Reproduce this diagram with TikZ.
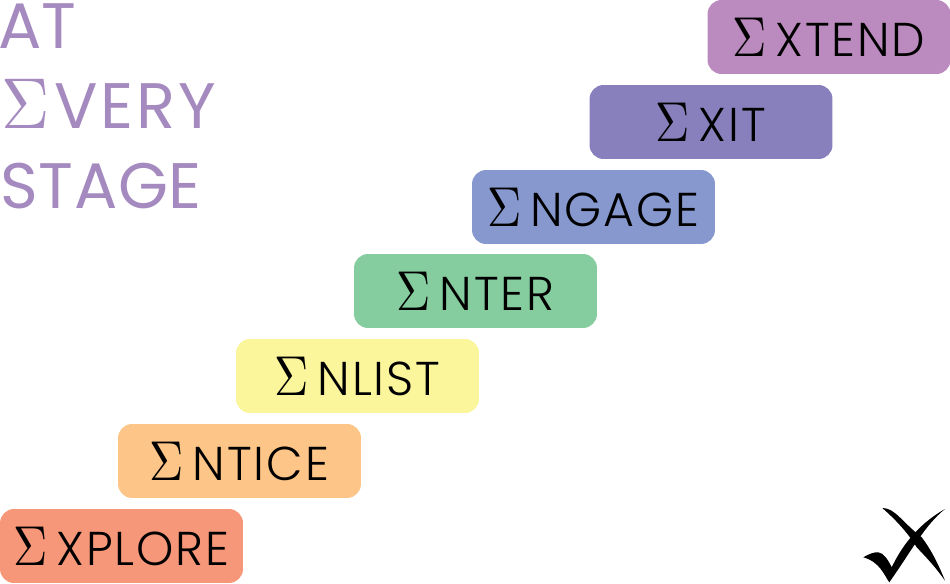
\documentclass[tikz,border=0pt]{standalone}
\usepackage{fontspec}
\setmainfont{Poppins Light}
\newfontfamily\headfont{Poppins}
\definecolor{explorecol}{HTML}{F79779}
\definecolor{enticecol}{HTML}{FDC587}
\definecolor{enlistcol}{HTML}{FBF59B}
\definecolor{entercol}{HTML}{85CC9F}
\definecolor{engagecol}{HTML}{8698CE}
\definecolor{exitcol}{HTML}{8880BC}
\definecolor{extendcol}{HTML}{BB8ABE}
\definecolor{headcol}{HTML}{A58ABF}
\newcommand{\sigmabase}{\fontsize{10}{10}\selectfont$\Sigma$}
\newcommand{\sig}{\scalebox{2.7}[3.2]{\sigmabase}\hspace{5pt}}
\newcommand{\bigsig}{\scalebox{3.8}[4.1]{\sigmabase}\hspace{3pt}}
\tikzset{
  stepbox/.style={rounded corners=0.28cm,minimum width=4.86cm,minimum height=1.48cm,
    inner sep=0pt,text=black,font=\fontsize{27}{27}\selectfont\addfontfeature{LetterSpace=4}},
  headline/.style={anchor=base west,inner sep=0pt,text=headcol,font=\headfont\fontsize{36.6}{36.6}\selectfont}
}
\begin{document}
\begin{tikzpicture}[x=0.02cm,y=-0.02cm]
  \useasboundingbox (0,0) rectangle (950,584);
  \node (at) [headline] at (-2,49) {AT};
  \node (every) [headline] at (1,129) {\bigsig\addfontfeature{LetterSpace=4}VERY};
  \node (stage) [headline] at (0,209) {\addfontfeature{LetterSpace=1}STAGE};
  \node (explore) [stepbox,fill=explorecol] at (121.5,546) {\sig XPLORE};
  \node (entice) [stepbox,fill=enticecol] at (239.5,461) {\sig NTICE};
  \node (enlist) [stepbox,fill=enlistcol] at (357.5,376) {\sig NLIST};
  \node (enter) [stepbox,fill=entercol] at (475.5,291) {\sig NTER};
  \node (engage) [stepbox,fill=engagecol] at (593.5,207) {\sig NGAGE};
  \node (exit) [stepbox,fill=exitcol] at (711,122) {\sig XIT};
  \node (extend) [stepbox,fill=extendcol] at (829,37) {\sig XTEND};
  % check mark
  \fill (863.3,557.3) .. controls (870,553.5) and (874,552) .. (878.3,552.3)
    .. controls (884,553) and (888,560) .. (891.7,567.3)
    .. controls (900,550) and (915,526) .. (945,509)
    .. controls (925,525) and (912,550) .. (889.3,582.3)
    .. controls (884,575) and (880,562) .. (863.3,557.3) -- cycle;
  \fill (882.3,508) .. controls (895,508) and (902,522) .. (921.7,537.3)
    .. controls (930,548) and (938,563) .. (945,580.7)
    .. controls (935,566) and (922,553) .. (916.7,547.3)
    .. controls (908,533) and (896,520) .. (882.3,508) -- cycle;
\end{tikzpicture}
\end{document}
